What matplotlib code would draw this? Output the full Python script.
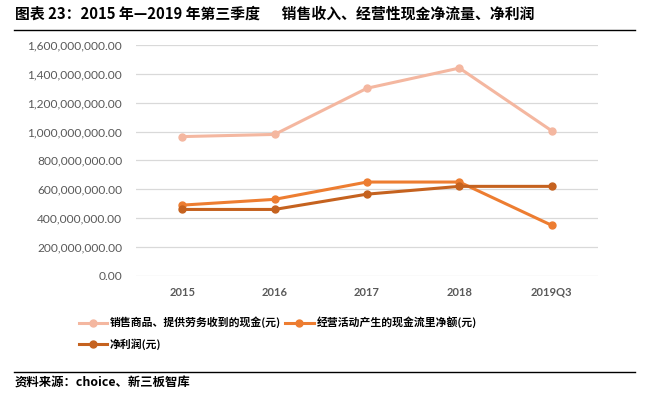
import matplotlib.pyplot as plt
from matplotlib.ticker import FuncFormatter
from matplotlib.lines import Line2D

CJK = ["Noto Sans CJK SC", "DejaVu Sans"]

years = ["2015", "2016", "2017", "2018", "2019Q3"]
sales_cash = [965e6, 980e6, 1300e6, 1440e6, 1005e6]
op_cash_flow = [490e6, 530e6, 650e6, 650e6, 350e6]
net_profit = [460e6, 460e6, 566e6, 620e6, 620e6]

labels = ["销售商品、提供劳务收到的现金(元)", "经营活动产生的现金流里净额(元)", "净利润(元)"]
colors = ["#F4B7A0", "#ED7D31", "#C5621F"]


def main():
    fig = plt.figure(figsize=(6.45, 3.98), dpi=100)
    ax = fig.add_axes([0.211, 0.307, 0.716, 0.580])

    x = list(range(len(years)))
    handles = []
    for ys, c in zip([sales_cash, op_cash_flow, net_profit], colors):
        h, = ax.plot(x, ys, color=c, lw=2.2, marker="o", ms=5, zorder=3)
        handles.append(h)

    ax.set_xlim(-0.5, len(years) - 0.5)
    ax.set_ylim(0, 1.6e9)
    ax.set_yticks([i * 2e8 for i in range(9)])
    ax.yaxis.set_major_formatter(FuncFormatter(lambda v, p: f"{v:,.2f}"))
    ax.set_xticks(x)
    ax.set_xticklabels(years, fontweight="bold")
    ax.grid(axis="y", color="#D9D9D9", lw=0.9)
    ax.set_axisbelow(True)
    for s in ax.spines.values():
        s.set_visible(False)
    ax.tick_params(length=0, colors="#595959")
    ax.tick_params(axis="y", pad=10, labelsize=8.6)
    ax.tick_params(axis="x", pad=8, labelsize=8)
    for t in ax.get_yticklabels() + ax.get_xticklabels():
        t.set_family("Lato")

    fig.legend([handles[0], handles[2], handles[1]],
               [labels[0], labels[2], labels[1]],
               ncol=2, loc="upper left", bbox_to_anchor=(0.115, 0.215),
               frameon=False, prop={"family": CJK, "size": 7.8, "weight": "bold"},
               handlelength=2.6, handletextpad=0.3, columnspacing=0.4,
               labelspacing=0.95, borderaxespad=0)

    fig.text(0.023, 0.966, "图表 23：2015 年—2019 年第三季度\u3000  销售收入、经营性现金净流量、净利润",
             family=CJK, fontsize=10.7, fontweight="bold", va="center")
    fig.add_artist(Line2D([0.022, 0.985], [0.925, 0.925], color="black", lw=1))
    fig.add_artist(Line2D([0.022, 0.985], [0.065, 0.065], color="black", lw=1))
    fig.text(0.023, 0.037, "资料来源：choice、新三板智库", family=CJK,
             fontsize=8.9, fontweight="bold", va="center")

    fig.savefig("out.png", dpi=100)
    plt.close(fig)


if __name__ == "__main__":
    main()
